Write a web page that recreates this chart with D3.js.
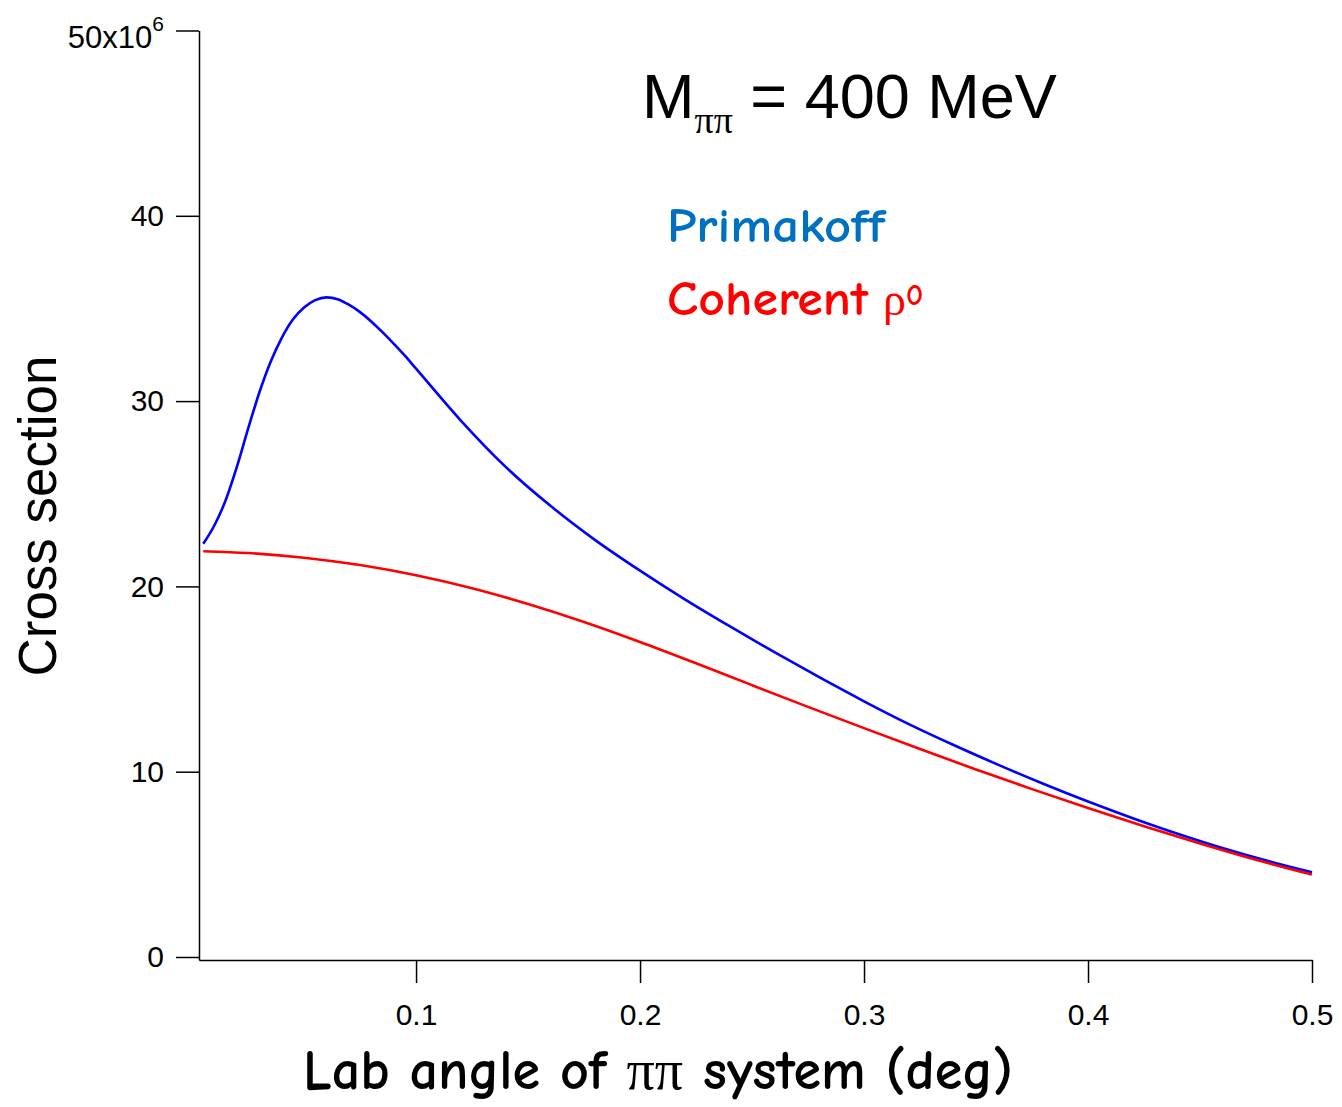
<!DOCTYPE html>
<html>
<head>
<meta charset="utf-8">
<script src="https://cdn.jsdelivr.net/npm/d3@7"></script>
<style>
  body { margin: 0; background: #fff; }
</style>
</head>
<body>
<div id="plot"></div>
<script>
// lab angle (deg)
const primakoff_x = [0.005, 0.010, 0.015, 0.020, 0.025, 0.030, 0.035, 0.040, 0.045, 0.050,
    0.055, 0.060, 0.065, 0.070, 0.075, 0.080, 0.085, 0.090, 0.095, 0.100,
    0.12, 0.14, 0.16, 0.18, 0.20, 0.22, 0.24, 0.26, 0.28, 0.30,
    0.32, 0.34, 0.36, 0.38, 0.40, 0.42, 0.44, 0.46, 0.48, 0.50];
// cross section in units of 1e6
const primakoff_y = [22.3, 23.3, 24.65, 26.45, 28.5, 30.45, 32.1, 33.4, 34.4, 35.05,
    35.45, 35.6, 35.5, 35.2, 34.8, 34.3, 33.72, 33.1, 32.45, 31.75,
    28.95, 26.45, 24.35, 22.5, 20.85, 19.3, 17.85, 16.45, 15.1, 13.8,
    12.57, 11.44, 10.37, 9.35, 8.39, 7.49, 6.65, 5.88, 5.19, 4.57];

const coherent_x = [0.005, 0.025, 0.05, 0.075, 0.1, 0.125, 0.15, 0.175, 0.2, 0.225,
    0.25, 0.275, 0.3, 0.325, 0.35, 0.375, 0.4, 0.425, 0.45, 0.475, 0.5];
const coherent_y = [21.9, 21.8, 21.55, 21.15, 20.6, 19.9, 19.05, 18.08, 17.0, 15.85,
    14.67, 13.5, 12.35, 11.22, 10.12, 9.06, 8.04, 7.06, 6.13, 5.25, 4.45];

const x_ticks = [0.1, 0.2, 0.3, 0.4, 0.5];
const y_ticks = [0, 10, 20, 30, 40, 50];

const width = 1342;
const height = 1107;

const svg = d3.select('#plot')
    .append('svg')
    .attr('width', width)
    .attr('height', height);

const x = d3.scaleLinear()
    .domain([0.0031, 0.5])
    .range([199, 1312]);

const y = d3.scaleLinear()
    .domain([-0.162, 50])
    .range([960, 30.5]);

function xAxis(g) {
    g.attr('transform', 'translate(0,960)')
        .call(d3.axisBottom(x).tickValues(x_ticks).tickSize(23).tickSizeOuter(0).tickPadding(21)
            .tickFormat(d => d3.format('.1f')(d)))
        .attr('font-size', '30px')
        .attr('font-family', 'Liberation Sans, Arial, sans-serif');
}

function yAxis(g) {
    g.attr('transform', 'translate(199,0)')
        .call(d3.axisLeft(y).tickValues(y_ticks).tickSize(23).tickSizeOuter(0).tickPadding(12)
            .tickFormat(d => d === 50 ? '50x10' : d))
        .attr('font-size', '30px')
        .attr('font-family', 'Liberation Sans, Arial, sans-serif');
}

svg.append('g').call(xAxis);
svg.append('g').call(yAxis);
svg.selectAll('.domain, .tick line').attr('stroke', '#000').attr('stroke-width', 1.5);
svg.selectAll('.tick text').attr('fill', '#000');

// top label gets the exponent
let top_label = svg.selectAll('.tick text').filter(d => d === 50);
top_label.attr('dy', '17px').attr('font-size', '31px');
top_label.append('tspan')
    .attr('font-size', '21px')
    .attr('dy', '-17px')
    .text('6');

const line = d3.line()
    .x(d => x(d[0]))
    .y(d => y(d[1]))
    .curve(d3.curveMonotoneX);

svg.append('path')
    .datum(primakoff_x.map((v, i) => [v, primakoff_y[i]]))
    .attr('fill', 'none')
    .attr('stroke', '#0000ff')
    .attr('stroke-width', 2.6)
    .attr('d', line);

svg.append('path')
    .datum(coherent_x.map((v, i) => [v, coherent_y[i]]))
    .attr('fill', 'none')
    .attr('stroke', '#ff0000')
    .attr('stroke-width', 2.6)
    .attr('d', line);

// title
let title = svg.append('text')
    .attr('x', 642)
    .attr('y', 118)
    .attr('font-family', 'Liberation Sans, Arial, sans-serif')
    .attr('font-size', '63px')
    .attr('fill', '#000');
title.append('tspan').text('M');
title.append('tspan')
    .attr('font-family', 'Liberation Serif, Times New Roman, serif')
    .attr('font-size', '38px')
    .attr('dy', '15')
    .text('ππ');
title.append('tspan')
    .attr('dy', '-15')
    .text(' = 400 MeV');

const comic = "'Comic Sans MS', 'Comic Neue', 'DejaVu Sans', sans-serif";

svg.append('text')
    .attr('x', 667)
    .attr('y', 242)
    .attr('font-family', comic)
    .attr('font-weight', 'bold')
    .attr('font-size', '48px')
    .attr('fill', '#0070c0')
    .attr('textLength', 218)
    .attr('lengthAdjust', 'spacingAndGlyphs')
    .text('Primakoff');

svg.append('text')
    .attr('x', 667)
    .attr('y', 315)
    .attr('font-family', comic)
    .attr('font-weight', 'bold')
    .attr('font-size', '48px')
    .attr('fill', '#ff0000')
    .attr('textLength', 201)
    .attr('lengthAdjust', 'spacingAndGlyphs')
    .text('Coherent');

svg.append('text')
    .attr('x', 883)
    .attr('y', 315)
    .attr('font-family', 'Liberation Serif, serif')
    .attr('font-size', '46px')
    .attr('fill', '#ff0000')
    .text('ρ');

svg.append('text')
    .attr('x', 906)
    .attr('y', 305)
    .attr('font-family', comic)
    .attr('font-weight', 'bold')
    .attr('font-size', '30px')
    .attr('fill', '#ff0000')
    .text('0');

// axis titles
let x_title = svg.append('text')
    .attr('x', 303)
    .attr('y', 1089)
    .attr('font-family', comic)
    .attr('font-weight', 'bold')
    .attr('font-size', '56px')
    .attr('fill', '#000')
    .attr('textLength', 710)
    .attr('lengthAdjust', 'spacingAndGlyphs');
x_title.append('tspan').text('Lab angle of ');
x_title.append('tspan').attr('font-family', 'Liberation Serif, serif').attr('font-weight', 'normal').text('ππ');
x_title.append('tspan').text(' system (deg)');

svg.append('text')
    .attr('transform', 'translate(56,516) rotate(-90)')
    .attr('text-anchor', 'middle')
    .attr('font-family', 'Liberation Sans, Arial, sans-serif')
    .attr('font-size', '53px')
    .attr('fill', '#000')
    .text('Cross section');
</script>
</body>
</html>
